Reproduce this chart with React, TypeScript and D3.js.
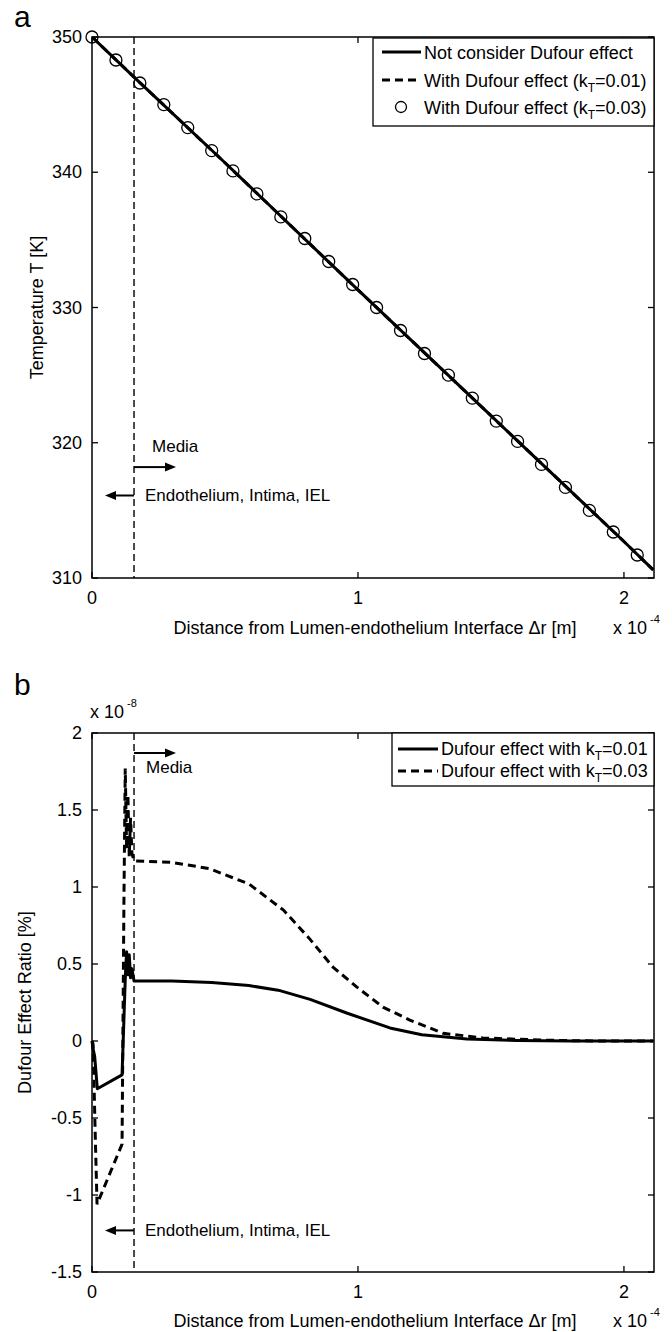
import { useEffect } from 'react';
import * as d3 from 'd3';

const FONT = '"Liberation Sans", Arial, Helvetica, sans-serif';

// ---- panel a: temperature (x in 1e-4 m) ----
const xTempLine = [0, 0.16, 0.5, 1.0, 1.5, 2.0, 2.11];
const tempNoDufour = [350, 347.0, 340.7, 331.3, 322.0, 312.7, 310.6];
const tempDufour01 = [350, 347.0, 340.7, 331.3, 322.0, 312.7, 310.6];
const xTempCircles = [0, 0.09, 0.18, 0.27, 0.36, 0.45, 0.53, 0.62, 0.71, 0.8, 0.89, 0.98, 1.07, 1.16, 1.25, 1.34, 1.43, 1.52, 1.6, 1.69, 1.78, 1.87, 1.96, 2.05];
const tempDufour03 = [350, 348.3, 346.6, 345.0, 343.3, 341.6, 340.1, 338.4, 336.7, 335.1, 333.4, 331.7, 330.0, 328.3, 326.6, 325.0, 323.3, 321.6, 320.1, 318.4, 316.7, 315.0, 313.4, 311.7];
const tempTicks = [310, 320, 330, 340, 350];

// ---- panel b: Dufour effect ratio (y in 1e-8 %) ----
const xRatio01 = [0, 0.004, 0.01, 0.02, 0.113, 0.125, 0.13, 0.135, 0.14, 0.145, 0.15, 0.158, 0.3, 0.45, 0.59, 0.7, 0.82, 0.96, 1.12, 1.24, 1.41, 1.6, 1.8, 2.11];
const ratio01 = [0, -0.05, -0.1, -0.31, -0.22, 0.4, 0.58, 0.43, 0.56, 0.41, 0.47, 0.39, 0.39, 0.38, 0.36, 0.33, 0.27, 0.18, 0.085, 0.04, 0.013, 0.003, 0, 0];
const xRatio03 = [0, 0.004, 0.012, 0.019, 0.113, 0.12, 0.125, 0.13, 0.135, 0.14, 0.145, 0.15, 0.158, 0.3, 0.44, 0.59, 0.72, 0.82, 0.906, 0.996, 1.094, 1.195, 1.32, 1.47, 1.7, 1.9, 2.11];
const ratio03 = [0, -0.02, -0.6, -1.06, -0.67, 0.9, 1.77, 1.25, 1.6, 1.2, 1.45, 1.22, 1.17, 1.16, 1.12, 1.02, 0.85, 0.66, 0.48, 0.35, 0.22, 0.136, 0.05, 0.02, 0.005, 0, 0];
const ratioTicks = [-1.5, -1, -0.5, 0, 0.5, 1, 1.5, 2];

const xTicks = [0, 1, 2];
const xMax = 2.113;
const layerEdge = 0.158; // endothelium/intima/IEL boundary

const LEFT = 92;
const RIGHT = 654;

function Frame({ x, y, yTicks }: { x: any; y: any; yTicks: number[] }) {
  const [x0, x1] = x.range();
  const [y1, y0] = y.range();
  const tick = 6;
  return (
    <g>
      <rect x={x0} y={y0} width={x1 - x0} height={y1 - y0} fill="none" stroke="#000" strokeWidth={1.5} />
      {xTicks.map((t) => (
        <g key={`xt-${t}`}>
          <line x1={x(t)} x2={x(t)} y1={y1} y2={y1 - tick} stroke="#000" strokeWidth={1.3} />
          <line x1={x(t)} x2={x(t)} y1={y0} y2={y0 + tick} stroke="#000" strokeWidth={1.3} />
          <text x={x(t)} y={y1 + 26} textAnchor="middle" fontSize={18} fontFamily={FONT}>{t}</text>
        </g>
      ))}
      {yTicks.map((t) => (
        <g key={`yt-${t}`}>
          <line x1={x0} x2={x0 + tick} y1={y(t)} y2={y(t)} stroke="#000" strokeWidth={1.3} />
          <line x1={x1} x2={x1 - tick} y1={y(t)} y2={y(t)} stroke="#000" strokeWidth={1.3} />
          <text x={x0 - 10} y={y(t)} textAnchor="end" dominantBaseline="central" fontSize={18} fontFamily={FONT}>{String(t)}</text>
        </g>
      ))}
    </g>
  );
}

function Arrow({ x1, x2, y }: { x1: number; x2: number; y: number }) {
  const dir = Math.sign(x2 - x1);
  const head = 11;
  return (
    <g>
      <line x1={x1} x2={x2 - dir * head} y1={y} y2={y} stroke="#000" strokeWidth={2} />
      <path d={`M${x2},${y} L${x2 - dir * head},${y - 4.5} L${x2 - dir * head},${y + 4.5} Z`} fill="#000" />
    </g>
  );
}

function XLabel({ y }: { y: number }) {
  return (
    <g fontFamily={FONT}>
      <text x={375} y={y} textAnchor="middle" fontSize={18}>Distance from Lumen-endothelium Interface Δr [m]</text>
      <text x={613} y={y} fontSize={18}>x 10</text>
      <text x={650} y={y - 11} fontSize={11}>-4</text>
    </g>
  );
}

function PanelA() {
  const x = d3.scaleLinear().domain([0, xMax]).range([LEFT, RIGHT]);
  const y = d3.scaleLinear().domain([310, 350]).range([578, 37]);
  const line = d3.line<number>().x((d, i) => x(xTempLine[i])).y((d) => y(d));
  const xe = x(layerEdge);
  return (
    <g>
      <text x={14} y={27} fontSize={30} fontFamily={FONT}>a</text>
      <defs>
        <clipPath id="clipA">
          <rect x={LEFT} y={37} width={RIGHT - LEFT} height={541} />
        </clipPath>
      </defs>
      <line x1={xe} x2={xe} y1={37} y2={578} stroke="#000" strokeWidth={1.4} strokeDasharray="7,4" />
      <g clipPath="url(#clipA)">
        <path d={line(tempNoDufour) || ''} fill="none" stroke="#000" strokeWidth={3} />
        <path d={line(tempDufour01) || ''} fill="none" stroke="#000" strokeWidth={3} strokeDasharray="8,5" />
      </g>
      {tempDufour03.map((t, i) => (
        <circle key={i} cx={x(xTempCircles[i])} cy={y(t)} r={6} fill="none" stroke="#000" strokeWidth={1.3} />
      ))}
      <Frame x={x} y={y} yTicks={tempTicks} />
      <Arrow x1={xe} x2={xe + 42} y={y(318.2)} />
      <text x={xe + 18} y={y(318.2) - 15} fontSize={17} fontFamily={FONT}>Media</text>
      <Arrow x1={xe} x2={xe - 29} y={y(316.1)} />
      <text x={xe + 11} y={y(316.1) + 6} fontSize={17} fontFamily={FONT}>Endothelium, Intima, IEL</text>
      <text transform={`translate(43,${(37 + 578) / 2}) rotate(-90)`} textAnchor="middle" fontSize={18} fontFamily={FONT}>Temperature T [K]</text>
      <XLabel y={634} />
      {/* legend */}
      <g fontFamily={FONT} fontSize={18}>
        <rect x={373} y={38} width={RIGHT - 373} height={88} fill="#fff" stroke="#000" strokeWidth={1.3} />
        <line x1={382} x2={421} y1={52} y2={52} stroke="#000" strokeWidth={3} />
        <text x={424} y={59}>Not consider Dufour effect</text>
        <line x1={382} x2={421} y1={80} y2={80} stroke="#000" strokeWidth={3} strokeDasharray="8,5" />
        <text x={424} y={87}>With Dufour effect (k<tspan fontSize={12} dy={5}>T</tspan><tspan dy={-5}>=0.01)</tspan></text>
        <circle cx={401} cy={107} r={5.5} fill="none" stroke="#000" strokeWidth={1.3} />
        <text x={424} y={114}>With Dufour effect (k<tspan fontSize={12} dy={5}>T</tspan><tspan dy={-5}>=0.03)</tspan></text>
      </g>
    </g>
  );
}

function PanelB() {
  const x = d3.scaleLinear().domain([0, xMax]).range([LEFT, RIGHT]);
  const y = d3.scaleLinear().domain([-1.5, 2]).range([1272, 733]);
  const line01 = d3.line<number>().x((d, i) => x(xRatio01[i])).y((d) => y(d));
  const line03 = d3.line<number>().x((d, i) => x(xRatio03[i])).y((d) => y(d));
  const xe = x(layerEdge);
  return (
    <g>
      <text x={14} y={695} fontSize={30} fontFamily={FONT}>b</text>
      <line x1={xe} x2={xe} y1={733} y2={1272} stroke="#000" strokeWidth={1.4} strokeDasharray="7,4" />
      <path d={line01(ratio01) || ''} fill="none" stroke="#000" strokeWidth={3} strokeLinejoin="round" />
      <path d={line03(ratio03) || ''} fill="none" stroke="#000" strokeWidth={3} strokeDasharray="8,5" />
      <Frame x={x} y={y} yTicks={ratioTicks} />
      <g fontFamily={FONT}>
        <text x={90} y={718} fontSize={18}>x 10</text>
        <text x={127} y={707} fontSize={11}>-8</text>
      </g>
      <Arrow x1={xe} x2={xe + 42} y={y(1.87)} />
      <text x={xe + 12} y={y(1.87) + 20} fontSize={17} fontFamily={FONT}>Media</text>
      <Arrow x1={xe} x2={xe - 29} y={y(-1.23)} />
      <text x={xe + 11} y={y(-1.23) + 6} fontSize={17} fontFamily={FONT}>Endothelium, Intima, IEL</text>
      <text transform={`translate(31,${(733 + 1272) / 2}) rotate(-90)`} textAnchor="middle" fontSize={18} fontFamily={FONT}>Dufour Effect Ratio [%]</text>
      <XLabel y={1327} />
      {/* legend */}
      <g fontFamily={FONT} fontSize={18}>
        <rect x={392} y={733} width={RIGHT - 392} height={53} fill="#fff" stroke="#000" strokeWidth={1.3} />
        <line x1={398} x2={438} y1={749} y2={749} stroke="#000" strokeWidth={3} />
        <text x={441} y={755}>Dufour effect with k<tspan fontSize={12} dy={5}>T</tspan><tspan dy={-5}>=0.01</tspan></text>
        <line x1={398} x2={438} y1={771} y2={771} stroke="#000" strokeWidth={3} strokeDasharray="8,5" />
        <text x={441} y={777}>Dufour effect with k<tspan fontSize={12} dy={5}>T</tspan><tspan dy={-5}>=0.03</tspan></text>
      </g>
    </g>
  );
}

export default function App() {
  useEffect(() => {
    document.body.style.margin = '0';
  }, []);
  return (
    <svg width={672} height={1332} viewBox="0 0 672 1332" style={{ display: 'block', background: '#fff' }}>
      <rect width={672} height={1332} fill="#fff" />
      <PanelA />
      <PanelB />
    </svg>
  );
}
